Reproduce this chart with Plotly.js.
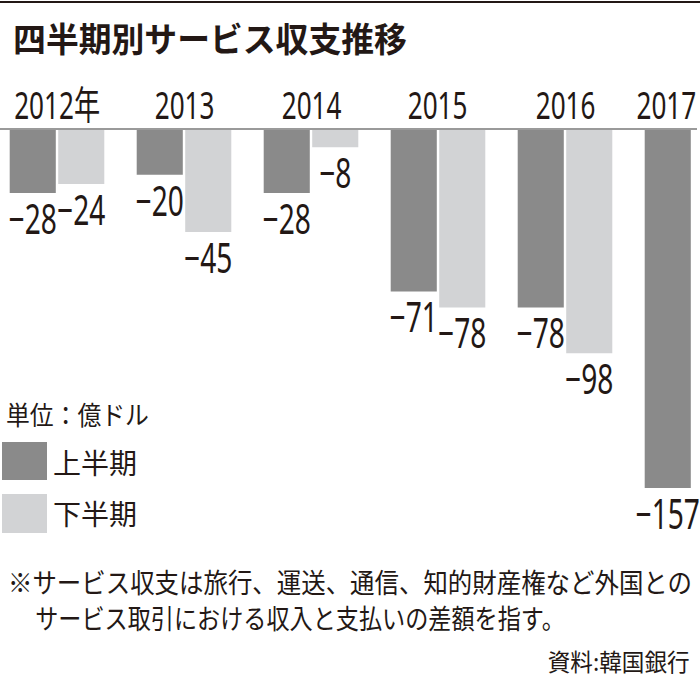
<!DOCTYPE html>
<html>
<head>
<meta charset="utf-8">
<script src="https://cdn.plot.ly/plotly-3.0.1.min.js"></script>
<style>html,body{margin:0;padding:0;background:#fff;}#chart{width:700px;height:693px;}</style>
</head>
<body>
<div id="chart"></div>
<script>
// ---- data ----
const years = ['2012', '2013', '2014', '2015', '2016', '2017'];
const yearLabels = ['2012年', '2013', '2014', '2015', '2016', '2017'];
const firstHalf = [-28, -20, -28, -71, -78, -157];
const secondHalf = [-24, -45, -8, -78, -98, null];
const seriesNames = ['上半期', '下半期'];
const unitLabel = '単位：億ドル';
const titleText = '四半期別サービス収支推移';
const noteLines = ['※サービス収支は旅行、運送、通信、知的財産権など外国との', 'サービス取引における収入と支払いの差額を指す。'];
const sourceText = '資料:韓国銀行';

// ---- styles ----
const W = 700, H = 693, TOP = 129;
const PH = H - TOP;
const py = y => (H - y) / PH;
const px = x => x / W;
const darkC = '#8a8a8a', lightC = '#d2d3d5', ink = '#231815';
const numFont = 'Noto Sans, Noto Sans CJK JP, sans-serif';
const jpFont = 'Noto Sans CJK JP, sans-serif';
const fmt = v => (v === null ? '' : (v < 0 ? '\u2212' : '') + Math.abs(v));

const mkBar = (vals, name, color) => ({
  type: 'bar', x: years, y: vals, name: name,
  marker: {color: color, line: {width: 0}},
  text: vals.map(fmt), textposition: 'outside', constraintext: 'none', cliponaxis: false,
  textfont: {family: numFont, size: 42, color: ink},
  hoverinfo: 'skip', showlegend: false
});

const data = [mkBar(firstHalf, seriesNames[0], darkC), mkBar(secondHalf, seriesNames[1], lightC)];

const pxPerUnit = 2.287, groupPx = 127, firstCenter = 57;
const r0 = -firstCenter / groupPx;

const annSqueeze = [];
const annotations = [];
function addAnn(a, sq) { annotations.push(a); annSqueeze.push(sq || null); }

addAnn({xref: 'paper', yref: 'paper', x: px(11), y: py(37), xanchor: 'left', yanchor: 'middle',
  text: '<b>' + titleText + '</b>', showarrow: false, font: {family: jpFont, size: 34, color: ink, weight: 900}},
  {w: 394, pivot: 'left'});
// year labels (placed at category centers; last one pushed inside the right edge)
yearLabels.forEach((t, i) => {
  const last = i === yearLabels.length - 1;
  const cx = firstCenter + i * groupPx;
  addAnn({xref: 'paper', yref: 'paper', x: last ? px(698) : px(cx), y: py(104),
    xanchor: last ? 'right' : 'center', yanchor: 'middle',
    text: t, showarrow: false, font: {family: numFont, size: 39, color: ink}},
    {s: 0.67, pivot: last ? 'right' : 'center'});
});
// legend
addAnn({xref: 'paper', yref: 'paper', x: px(4), y: py(413), xanchor: 'left', yanchor: 'middle',
  text: unitLabel, showarrow: false, font: {family: jpFont, size: 26, color: ink}}, {w: 143, pivot: 'left'});
addAnn({xref: 'paper', yref: 'paper', x: px(51), y: py(462), xanchor: 'left', yanchor: 'middle',
  text: seriesNames[0], showarrow: false, font: {family: jpFont, size: 28, color: ink}});
addAnn({xref: 'paper', yref: 'paper', x: px(51), y: py(513), xanchor: 'left', yanchor: 'middle',
  text: seriesNames[1], showarrow: false, font: {family: jpFont, size: 28, color: ink}});
// notes
addAnn({xref: 'paper', yref: 'paper', x: px(6), y: py(581), xanchor: 'left', yanchor: 'middle',
  text: noteLines[0], showarrow: false, font: {family: jpFont, size: 27, color: ink}}, {w: 684, pivot: 'left'});
addAnn({xref: 'paper', yref: 'paper', x: px(33), y: py(617), xanchor: 'left', yanchor: 'middle',
  text: noteLines[1], showarrow: false, font: {family: jpFont, size: 27, color: ink}}, {w: 530, pivot: 'left'});
addAnn({xref: 'paper', yref: 'paper', x: px(692), y: py(660), xanchor: 'right', yanchor: 'middle',
  text: sourceText, showarrow: false, font: {family: jpFont, size: 24, color: ink}}, {w: 142, pivot: 'right'});

const shapes = [
  {type: 'line', xref: 'paper', yref: 'paper', x0: 0, x1: 1, y0: py(2), y1: py(2), line: {color: ink, width: 2}},
  {type: 'line', xref: 'paper', yref: 'paper', x0: 0, x1: px(697), y0: 1, y1: 1, line: {color: '#9a9a9a', width: 2}},
  {type: 'rect', xref: 'paper', yref: 'paper', x0: px(2), x1: px(47), y0: py(480), y1: py(442), fillcolor: darkC, line: {width: 0}},
  {type: 'rect', xref: 'paper', yref: 'paper', x0: px(2), x1: px(47), y0: py(533), y1: py(494), fillcolor: lightC, line: {width: 0}}
];

const layout = {
  width: W, height: H,
  margin: {l: 0, r: 0, t: TOP, b: 0, pad: 0},
  paper_bgcolor: '#fff', plot_bgcolor: '#fff',
  barmode: 'group', bargap: 0.236, bargroupgap: 0.05,
  xaxis: {type: 'category', range: [r0, r0 + W / groupPx], showgrid: false, zeroline: false,
    showticklabels: false, ticks: '', showline: false, fixedrange: true},
  yaxis: {range: [-PH / pxPerUnit, 0], showgrid: false, zeroline: false, showticklabels: false,
    ticks: '', showline: false, fixedrange: true},
  annotations: annotations,
  shapes: shapes,
  showlegend: false
};

// horizontally condense a text element (the reference uses a condensed typeface)
function squeeze(el, spec, dy) {
  const b = el.getBBox();
  if (!b.width) return;
  const s = spec.s !== undefined ? spec.s : spec.w / b.width;
  const pv = spec.pivot === 'left' ? b.x : spec.pivot === 'right' ? b.x + b.width : b.x + b.width / 2;
  const t = el.getAttribute('transform') || '';
  el.setAttribute('transform', t + ' translate(' + pv + ' ' + (dy || 0) + ') scale(' + s + ' 1) translate(' + (-pv) + ' 0)');
}

Plotly.newPlot('chart', data, layout, {staticPlot: true, displayModeBar: false}).then(gd => {
  gd.querySelectorAll('text.bartext').forEach(el => squeeze(el, {s: 0.67, pivot: 'center'}, -7));
  gd.querySelectorAll('g.annotation').forEach(g => {
    const i = +g.getAttribute('data-index');
    const sq = annSqueeze[i];
    const el = g.querySelector('text.annotation-text');
    if (sq && el) squeeze(el, sq, 0);
  });
});
</script>
</body>
</html>
